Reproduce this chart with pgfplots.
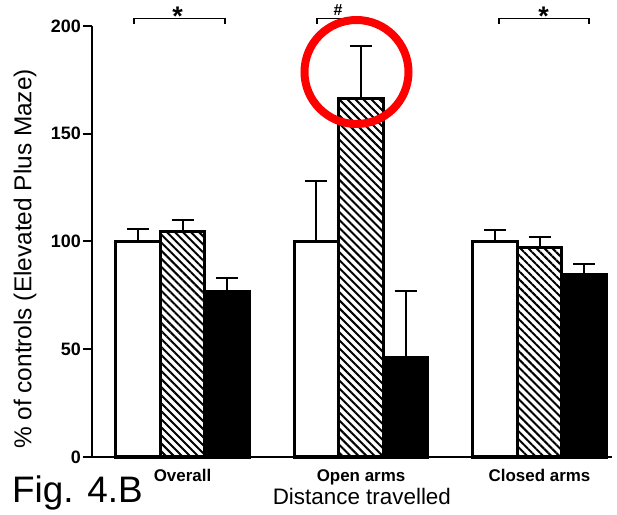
\documentclass[border=0pt]{standalone}
\usepackage{fontspec}
\setmainfont{Liberation Sans}
\usepackage{pgfplots}
\pgfplotsset{compat=1.18}
\usetikzlibrary{patterns.meta}
\begin{document}
\begin{tikzpicture}
\path[use as bounding box] (-92bp,-58bp) rectangle (525bp,457bp);
\begin{axis}[
  at={(0,0)}, anchor=south west,
  scale only axis, width=520bp, height=431bp,
  xmin=-0.507, xmax=2.406, ymin=0, ymax=200,
  axis x line*=bottom, axis y line*=left,
  axis line style={line width=2.6bp, -},
  every outer x axis line/.append style={-},
  every outer y axis line/.append style={-},
  ytick={0,50,100,150,200},
  xtick={0,1,2}, xticklabels={Overall,Open arms,Closed arms},
  x tick style={draw=none},
  y tick style={line width=2bp, black},
  tick align=outside, major tick length=9bp,
  /pgf/number format/assume math mode=true,
  yticklabel style={font=\bfseries\fontsize{18}{20}\selectfont, inner sep=2bp},
  xticklabel style={font=\bfseries\fontsize{17}{19}\selectfont, anchor=base, yshift=-15bp},
  xlabel={Distance travelled},
  xlabel style={font=\fontsize{22.5}{25}\selectfont, at={(axis description cs:0.519,0)}, anchor=base, yshift=-47bp, inner sep=0pt},
  ylabel={\% of controls (Elevated Plus Maze)},
  ylabel style={font=\fontsize{24.5}{27}\selectfont, at={(axis description cs:-0.1288,0.4594)}, anchor=center},
  ybar, bar width=0.25,
  clip=false,
  error bars/y dir=plus, error bars/y explicit,
  error bars/error bar style={line width=2bp, black},
  error bars/error mark options={rotate=90, mark size=11bp, line width=2bp, black},
]
\addplot[draw=black, line width=3bp, fill=white, bar shift=-0.25]
  coordinates {(0,100) +- (0,6) (1,100) +- (0,28) (2,100) +- (0,5.2)};
\addplot[draw=black, line width=3bp, pattern={Lines[angle=-45,distance=5.7pt,line width=2pt]}, bar shift=0]
  coordinates {(0,104.5) +- (0,5.3) (1,166.3) +- (0,24.6) (2,97.4) +- (0,4.7)};
\addplot[draw=black, line width=3bp, fill=black, bar shift=0.25]
  coordinates {(0,76.7) +- (0,6.5) (1,46.1) +- (0,31) (2,84.5) +- (0,5.1)};
\end{axis}
\begin{scope}[x=1bp, y=-1bp, shift={(-92bp,457bp)}]
  \draw[line width=1.5bp] (134,24) -- (134,18.7) -- (225,18.7) -- (225,24);
  \node[font=\bfseries\fontsize{27}{29}\selectfont, anchor=base, inner sep=0pt] at (177.5,26) {*};
  \draw[line width=1.5bp] (317,24) -- (317,18.7) -- (357,18.7) -- (357,24);
  \node[font=\bfseries\fontsize{16}{18}\selectfont, anchor=base, inner sep=0pt] at (338,16) {\#};
  \draw[line width=1.5bp] (499,24) -- (499,18.7) -- (589,18.7) -- (589,24);
  \node[font=\bfseries\fontsize{27}{29}\selectfont, anchor=base, inner sep=0pt] at (543.5,26) {*};
  \draw[red, line width=8bp] (356.5,72) circle[radius=52bp];
  \node[font=\fontsize{37}{40}\selectfont, anchor=base west, inner sep=0pt] at (12,503) {Fig. 4.B};
\end{scope}
\end{tikzpicture}
\end{document}
